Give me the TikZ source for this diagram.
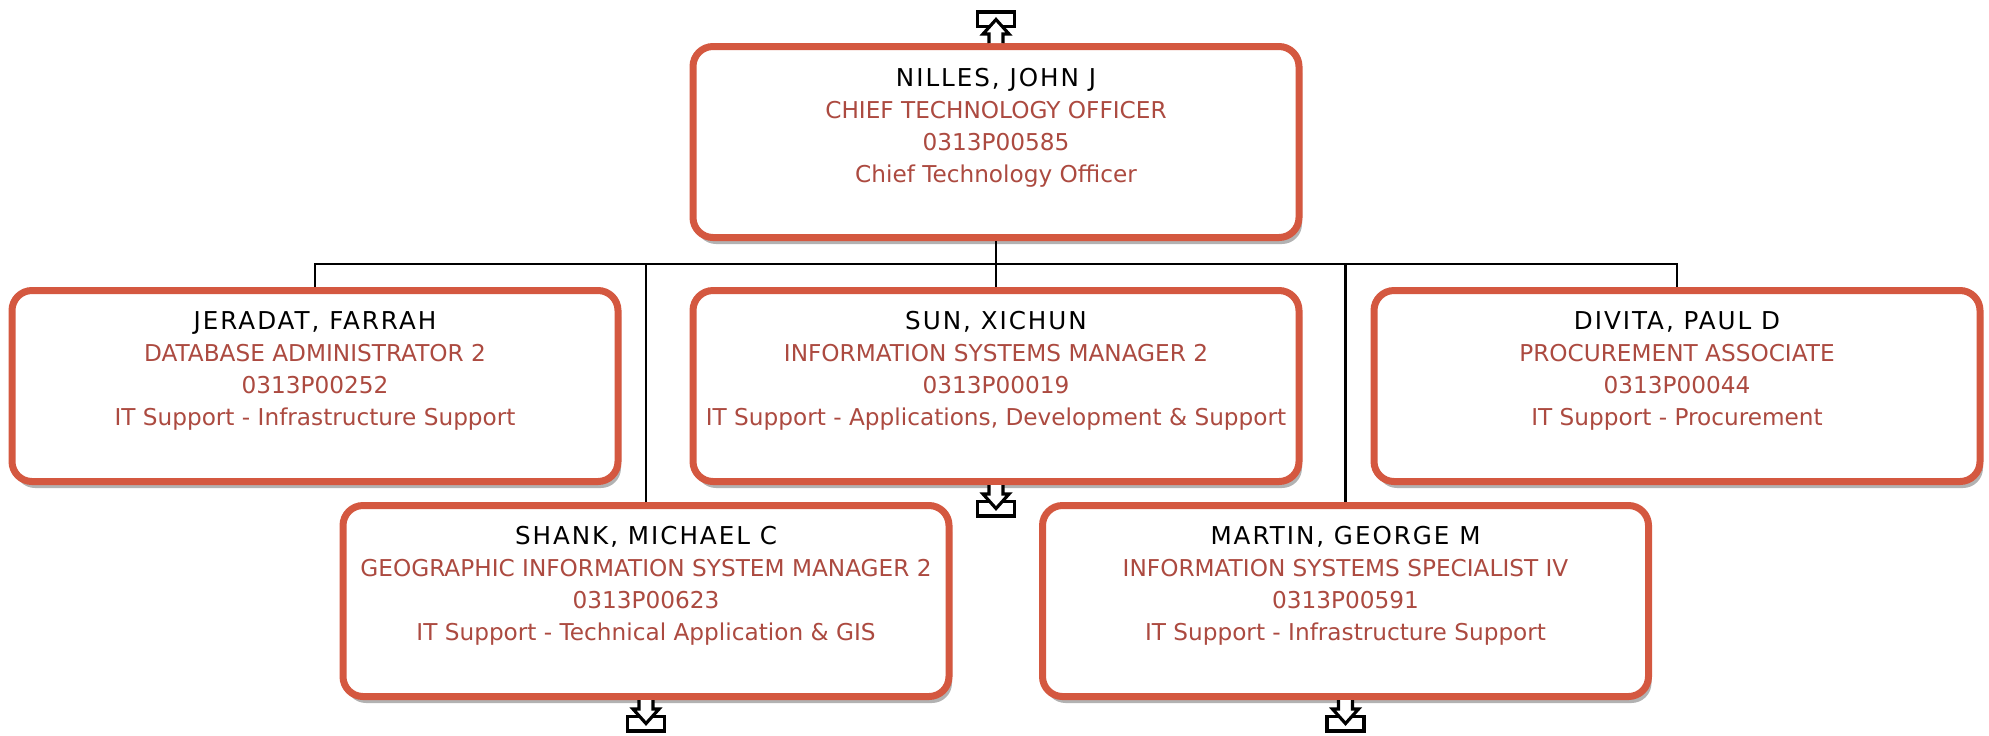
\documentclass[tikz,border=0pt]{standalone}
\usepackage{fontspec}
\setmainfont{DejaVu Sans}
\newfontfamily\namefont{DejaVu Sans}[LetterSpace=8]
\usepackage{xcolor}
\usepackage{tikz}
\usetikzlibrary{positioning, shadows}

\definecolor{cardred}{RGB}{212,88,64}
\definecolor{textred}{RGB}{172,74,64}
\newcommand{\who}[1]{{\namefont\fontsize{7}{9.1}\selectfont\color{black}#1}}

\begin{document}
\begin{tikzpicture}[
        card/.style={rectangle, draw=cardred, line width=0.07cm, rounded corners=0.2cm, fill=white,
                     minimum width=6.06cm, minimum height=1.91cm,
                     drop shadow={shadow xshift=0.03cm, shadow yshift=-0.065cm, fill=black!30, opacity=1}},
        info/.style={inner sep=0pt, align=center, text=textred, font=\fontsize{6.6}{9.1}\selectfont},
        link/.style={draw=black, line width=0.6pt},
        icon/.style={draw=black, line width=0.9pt, line join=miter},
        drilldown/.pic={
            \draw[icon] (-0.185,-0.165) rectangle (0.185,-0.31);
            \draw[icon, fill=white] (-0.07,0) -- (-0.07,-0.09) -- (-0.13,-0.09) -- (0,-0.235)
                -- (0.13,-0.09) -- (0.07,-0.09) -- (0.07,0);
        },
        drillup/.pic={
            \draw[icon] (-0.185,0.165) rectangle (0.185,0.31);
            \draw[icon, fill=white] (-0.07,0) -- (-0.07,0.09) -- (-0.13,0.09) -- (0,0.235)
                -- (0.13,0.09) -- (0.07,0.09) -- (0.07,0);
        }]

        \useasboundingbox (0,0) rectangle (19.89,-7.35);

        % boxes
        \node[card] (nilles) at (9.96,-1.42) {};
        \node[card, below=0.46cm of nilles] (sun) {};
        \node[card, left=0.68cm of sun]     (jeradat) {};
        \node[card, right=0.68cm of sun]    (divita) {};
        \node[card] (shank)  at (6.46,-6.01) {};
        \node[card] (martin) at (13.455,-6.01) {};

        % texts
        \node[info, below=0.25cm of nilles.north] (nillesTxt)
            {\who{NILLES, JOHN J}\\CHIEF TECHNOLOGY OFFICER\\0313P00585\\Chief Technology Officer};
        \node[info, below=0.24cm of jeradat.north] (jeradatTxt)
            {\who{JERADAT, FARRAH}\\DATABASE ADMINISTRATOR 2\\0313P00252\\IT Support - Infrastructure Support};
        \node[info, below=0.24cm of sun.north] (sunTxt)
            {\who{SUN, XICHUN}\\INFORMATION SYSTEMS MANAGER 2\\0313P00019\\IT Support - Applications, Development \& Support};
        \node[info, below=0.24cm of divita.north] (divitaTxt)
            {\who{DIVITA, PAUL D}\\PROCUREMENT ASSOCIATE\\0313P00044\\IT Support - Procurement};
        \node[info, below=0.24cm of shank.north] (shankTxt)
            {\who{SHANK, MICHAEL C}\\GEOGRAPHIC INFORMATION SYSTEM MANAGER 2\\0313P00623\\IT Support - Technical Application \& GIS};
        \node[info, below=0.24cm of martin.north] (martinTxt)
            {\who{MARTIN, GEORGE M}\\INFORMATION SYSTEMS SPECIALIST IV\\0313P00591\\IT Support - Infrastructure Support};

        % connectors
        \coordinate[below=0.23cm of nilles.south] (bus);
        \draw[link] (nilles.south) -- (sun.north);
        \draw[link] (jeradat.north) |- (bus) -| (divita.north);
        \draw[link] (shank.north) |- (bus) -| (martin.north);

        % drill icons
        \pic at (nilles.north) {drillup};
        \pic at (sun.south)    {drilldown};
        \pic at (shank.south)  {drilldown};
        \pic at (martin.south) {drilldown};
    \end{tikzpicture}
\end{document}
